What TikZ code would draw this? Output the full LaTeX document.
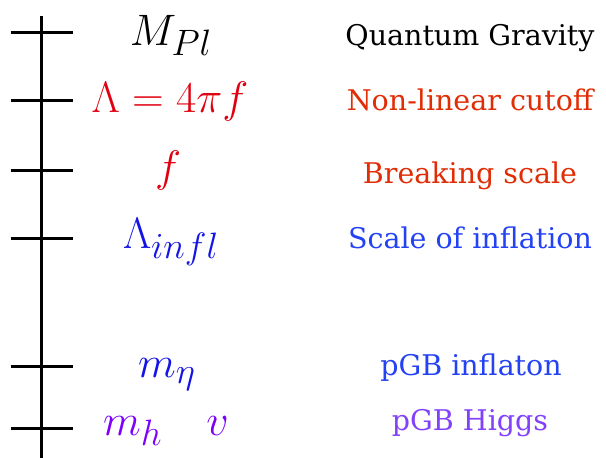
\documentclass[tikz,border=0pt]{standalone}
\usepackage{fontspec}
\usepackage{graphicx}
\usepackage{xcolor}
\usepackage{tikz}
\usetikzlibrary{positioning,calc}

\newfontfamily\labelfont{DejaVu Serif}
\newcommand{\bigmath}[1]{\scalebox{1.77}{\Huge$#1$}}

\definecolor{mred}{RGB}{225,0,15}
\definecolor{tred}{RGB}{225,45,5}
\definecolor{mblue}{RGB}{20,20,230}
\definecolor{tblue}{RGB}{35,65,245}
\definecolor{mviolet}{RGB}{125,0,250}
\definecolor{tviolet}{RGB}{130,65,250}

\begin{document}
\begin{tikzpicture}[x=1pt, y=-1pt,
    axis/.style={line width=3pt, black},
    tickmark/.style={line width=3pt, black},
    scale label/.style={anchor=base, inner sep=0pt},
    name label/.style={anchor=base, inner sep=0pt, font=\labelfont\fontsize{28.5}{34}\selectfont}
]
    \useasboundingbox (0,0) rectangle (606,458);

    % energy axis
    \coordinate (top) at (41.5,16);
    \coordinate (bottom) at (41.5,458);
    \draw[axis] (top) -- (bottom);
    \foreach \y/\n in {32/1, 100.5/2, 170/3, 238.5/4, 366.5/5, 428.5/6} {
        \coordinate (t\n) at (41.5,\y);
        \draw[tickmark] ($(t\n)+(-31,0)$) -- ($(t\n)+(31,0)$);
    }

    % scales
    \node[scale label] (mpl) at (171,45) {\bigmath{M_{Pl}}};
    \node[scale label, text=mred] (cutoff) at (170,112.5) {\bigmath{\Lambda=4\pi f}};
    \node[scale label, text=mred] (fscale) at (168,181) {\bigmath{f}};
    \node[scale label, text=mblue] (infl) at (171,248) {\bigmath{\Lambda_{infl}}};
    \node[scale label, text=mblue] (meta) at (167,377) {\bigmath{m_\eta}};
    \node[scale label, text=mviolet] (mh) at (166,435) {\bigmath{m_h\quad v}};

    % meaning of each scale
    \node[name label] (qg) at (470,45) {Quantum Gravity};
    \node[name label, text=tred] (nl) at (470,110) {Non-linear cutoff};
    \node[name label, text=tred] (bs) at (470,183) {Breaking scale};
    \node[name label, text=tblue] (si) at (470,248) {Scale of inflation};
    \node[name label, text=tblue] (inf) at (471,375) {pGB inflaton};
    \node[name label, text=tviolet] (hig) at (470,430) {pGB Higgs};
\end{tikzpicture}
\end{document}
